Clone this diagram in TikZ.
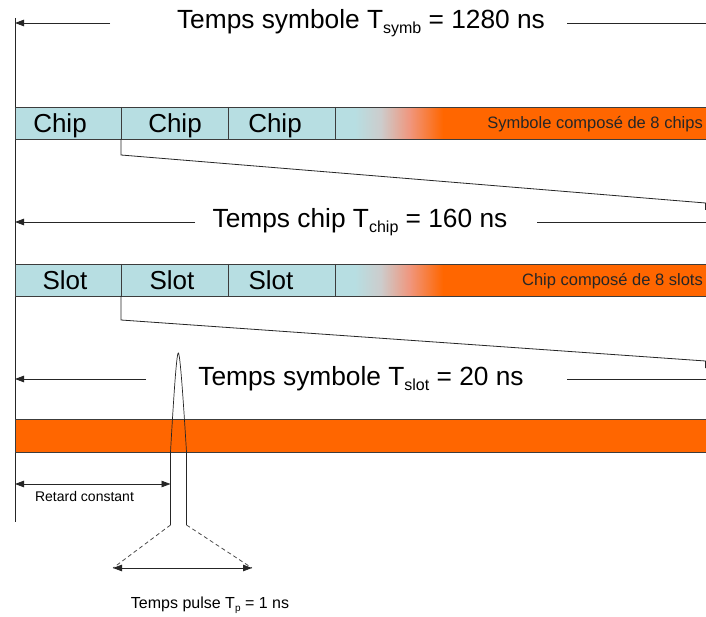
\documentclass[tikz,border=0pt]{standalone}
\usepackage{fontspec}
\setmainfont{Liberation Sans}
\usetikzlibrary{arrows.meta}
\definecolor{cellblue}{RGB}{183,222,226}
\definecolor{orng}{RGB}{255,102,0}
\definecolor{fadegray}{RGB}{204,204,204}
\definecolor{fadesalmon}{RGB}{240,150,125}
\definecolor{edgec}{RGB}{60,60,60}
\newcommand{\subbig}[1]{\raisebox{-5pt}{\fontsize{16}{16}\selectfont #1}}
\newcommand{\subsmall}[1]{\raisebox{-3pt}{\fontsize{10}{10}\selectfont #1}}
% gradient strip between x=#1 and x=#1+108, from y=#2 to y=#3
\newcommand{\fadestrip}[3]{%
  \foreach \i in {0,...,107}{%
    \pgfmathtruncatemacro{\xa}{#1+\i}%
    \ifnum\i<20
      \def\fcol{cellblue}%
    \else\ifnum\i<46
      \pgfmathtruncatemacro{\pp}{100-(\i-20)*100/26}%
      \def\fcol{cellblue!\pp!fadegray}%
    \else\ifnum\i<75
      \pgfmathtruncatemacro{\pp}{100-(\i-46)*100/29}%
      \def\fcol{fadegray!\pp!fadesalmon}%
    \else
      \pgfmathtruncatemacro{\pp}{100-(\i-75)*100/33}%
      \def\fcol{fadesalmon!\pp!orng}%
    \fi\fi\fi
    \fill[\fcol] (\xa,#2) rectangle ++(1.6,#3-#2);
  }}
\begin{document}
\begin{tikzpicture}[x=1pt,y=-1pt,
  ln/.style={draw=black!85, line width=0.8pt},
  arr/.style={ln, -{Triangle[length=9pt,width=6.5pt]}},
  dblarr/.style={ln, {Triangle[length=9pt,width=6.5pt]}-{Triangle[length=9pt,width=6.5pt]}},
  dashln/.style={draw=black!70, line width=0.8pt, dash pattern=on 4pt off 3pt},
  bartxt/.style={font=\fontsize{26.3}{30}\selectfont, inner sep=0pt, anchor=base},
  celltxt/.style={font=\fontsize{26}{30}\selectfont, inner sep=0pt, anchor=base},
  bandtxt/.style={font=\fontsize{16.5}{20}\selectfont, inner sep=0pt, anchor=base east, text=black!85},
  notetxt/.style={font=\fontsize{14}{17}\selectfont, inner sep=0pt, anchor=base},
  barline/.style={draw=edgec, line width=0.8pt}]
\useasboundingbox (0,0) rectangle (706,617);
\fill[white] (0,0) rectangle (706,617);

% ---- left reference line
\coordinate (ltop) at (15,18);
\coordinate (lbot) at (15,522);
\draw[ln] (ltop) -- (lbot);

% ---- top dimension: symbol time
\node[bartxt] (tsymb) at (361,29) {Temps symbole T\subbig{symb} = 1280 ns};
\coordinate (a1l) at (15,23);
\coordinate (a1s) at (110,23);
\coordinate (a1r) at (567,23);
\coordinate (a1e) at (715,23);
\draw[arr] (a1s) -- (a1l);
\draw[arr] (a1r) -- (a1e);

% ---- chip bar
\fill[cellblue] (15,107) rectangle (336,139);
\fadestrip{335}{107}{139}
\fill[orng] (443,107) rectangle (712,139);
\draw[barline] (15,107) rectangle (712,139);
\draw[barline] (121,107) -- (121,139);
\draw[barline] (228,107) -- (228,139);
\draw[barline] (335,107) -- (335,139);
\node[celltxt] (chip1) at (60,133) {Chip};
\node[celltxt] (chip2) at (175,133) {Chip};
\node[celltxt] (chip3) at (275,133) {Chip};
\node[bandtxt] (chipband) at (703,129) {Symbole composé de 8 chips};

% ---- zoom connector chip -> chip time
\coordinate (z1a) at (121,139);
\coordinate (z1b) at (121,155);
\coordinate (z1c) at (705.5,203);
\coordinate (z1d) at (705.5,210);
\draw[ln] (z1a) -- (z1b) -- (z1c) -- (z1d);

% ---- chip time dimension
\node[bartxt] (tchip) at (360,228) {Temps chip T\subbig{chip} = 160 ns};
\coordinate (a2l) at (15,222);
\coordinate (a2s) at (195,222);
\coordinate (a2r) at (537,222);
\coordinate (a2e) at (715,222);
\draw[arr] (a2s) -- (a2l);
\draw[arr] (a2r) -- (a2e);

% ---- slot bar
\fill[cellblue] (15,264) rectangle (336,296);
\fadestrip{335}{264}{296}
\fill[orng] (443,264) rectangle (712,296);
\draw[barline] (15,264) rectangle (712,296);
\draw[barline] (121,264) -- (121,296);
\draw[barline] (228,264) -- (228,296);
\draw[barline] (335,264) -- (335,296);
\node[celltxt] (slot1) at (65,290) {Slot};
\node[celltxt] (slot2) at (172,290) {Slot};
\node[celltxt] (slot3) at (271,290) {Slot};
\node[bandtxt] (slotband) at (703,286) {Chip composé de 8 slots};

% ---- zoom connector slot -> slot time
\coordinate (z2a) at (121,296);
\coordinate (z2b) at (121,320);
\coordinate (z2c) at (705.5,361);
\coordinate (z2d) at (705.5,368);
\draw[ln] (z2a) -- (z2b) -- (z2c) -- (z2d);

% ---- slot time dimension
\node[bartxt] (tslot) at (361,385) {Temps symbole T\subbig{slot} = 20 ns};
\coordinate (a3l) at (15,379);
\coordinate (a3s) at (146,379);
\coordinate (a3r) at (567,379);
\coordinate (a3e) at (715,379);
\draw[arr] (a3s) -- (a3l);
\draw[arr] (a3r) -- (a3e);

% ---- slot band
\fill[orng] (15,419) rectangle (712,452);
\draw[barline] (15,419) rectangle (712,452);

% ---- pulse
\coordinate (pl) at (170.5,452);
\coordinate (ppk) at (178.3,353);
\coordinate (pr) at (186.5,452);
\coordinate (plb) at (170.5,525);
\coordinate (prb) at (186.5,525);
\draw[ln, line width=0.7pt] (plb) -- (pl) .. controls (173.5,400) and (176.5,353) .. (ppk)
      .. controls (180.1,353) and (183.3,400) .. (pr) -- (prb);

% ---- constant delay
\coordinate (rl) at (15,484);
\coordinate (rr) at (170.5,484);
\draw[dblarr] (rl) -- (rr);
\node[notetxt] (retard) at (84.5,501) {Retard constant};

% ---- pulse width
\coordinate (wl) at (113,568);
\coordinate (wr) at (252,568);
\draw[dashln] (plb) -- (wl);
\draw[dashln] (prb) -- (wr);
\draw[dblarr] (wl) -- (wr);
\node[font=\fontsize{16}{19}\selectfont, inner sep=0pt, anchor=base] (tpulse) at (210,608) {Temps pulse T\subsmall{p} = 1 ns};
\end{tikzpicture}
\end{document}
